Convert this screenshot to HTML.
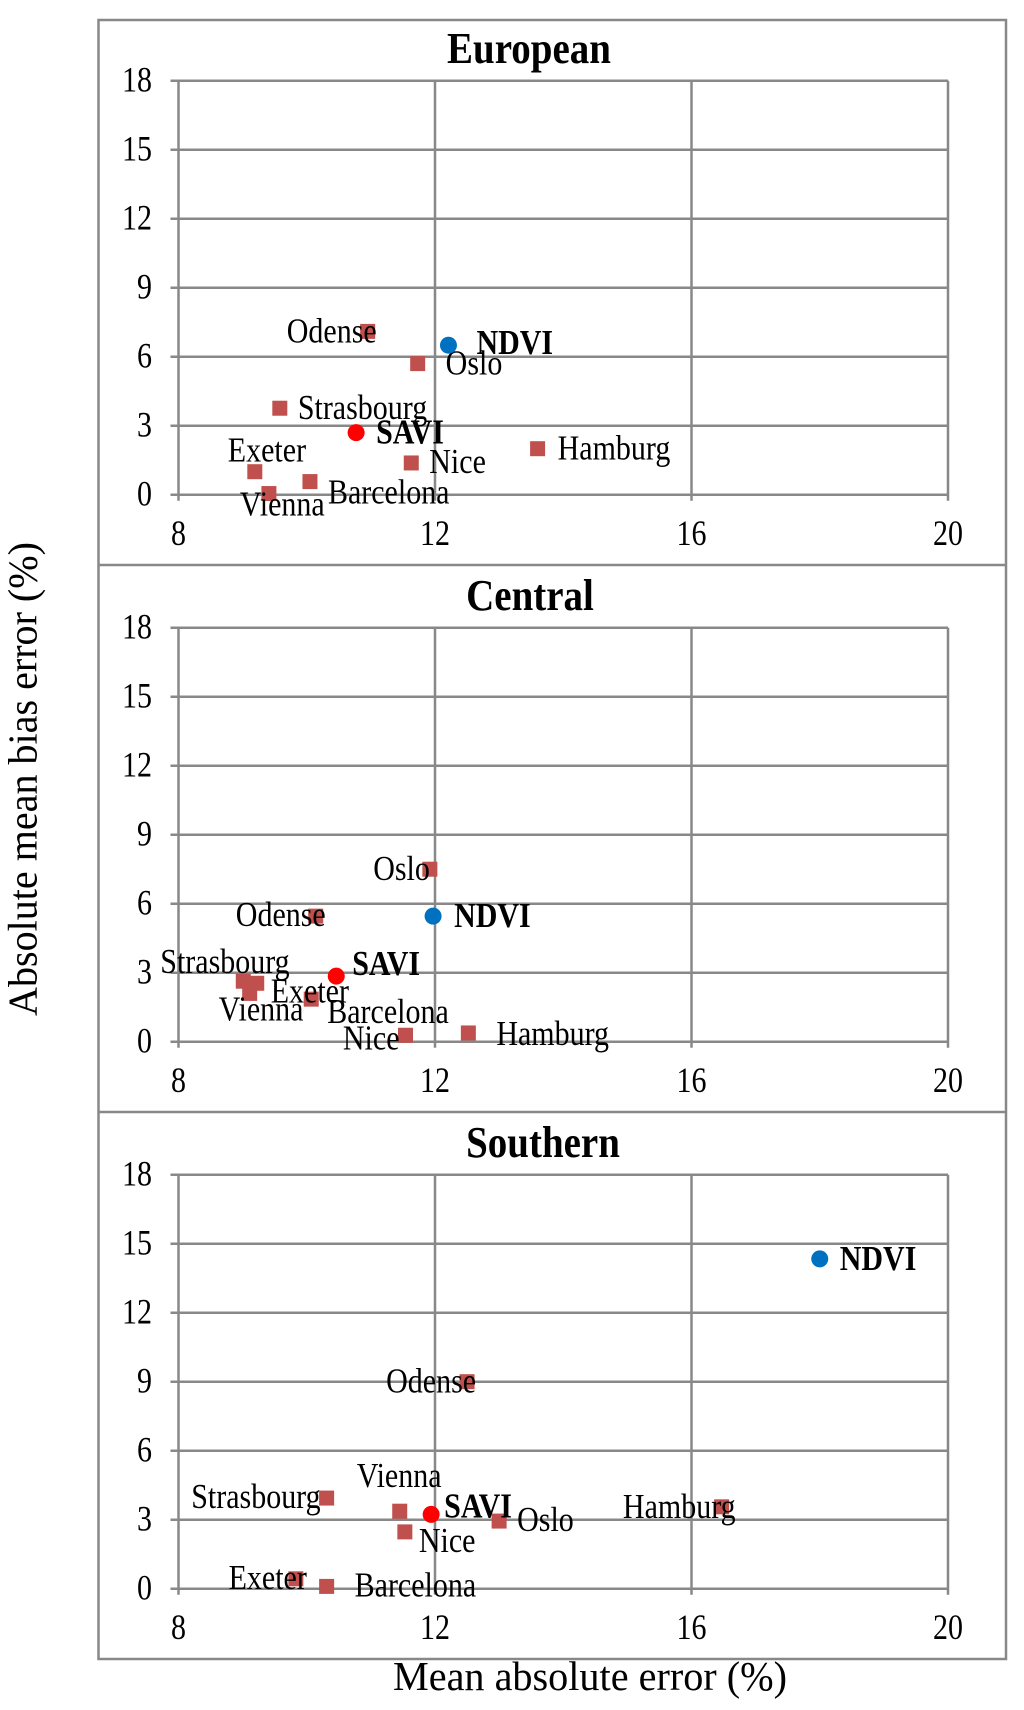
<!DOCTYPE html>
<html><head><meta charset="utf-8"><style>
html,body{margin:0;padding:0;background:#fff;}
svg{display:block;font-family:"Liberation Serif",serif;}
</style></head><body>
<svg id="chart" width="1024" height="1710" viewBox="0 0 1024 1710" xmlns="http://www.w3.org/2000/svg">
<rect x="98.5" y="20" width="907.5" height="1639" fill="none" stroke="#888" stroke-width="2.5"/>
<line x1="98.5" y1="565" x2="1006" y2="565" stroke="#888" stroke-width="2.5"/>
<line x1="98.5" y1="1112" x2="1006" y2="1112" stroke="#888" stroke-width="2.5"/>
<text x="0" y="0" transform="translate(27 779) rotate(-90) scale(1 1.15)" text-anchor="middle" dominant-baseline="middle" font-size="36" textLength="474" lengthAdjust="spacingAndGlyphs">Absolute mean bias error (%)</text>
<text x="0" y="0" transform="translate(590 1690) scale(1 1.15)" text-anchor="middle" font-size="36" textLength="394" lengthAdjust="spacingAndGlyphs">Mean absolute error (%)</text>
</svg>
<script>
const panelTitles = ["European", "Central", "Southern"];
const cities = ["Odense","Oslo","Strasbourg","Hamburg","Nice","Exeter","Barcelona","Vienna"];
const xTicks = [8, 12, 16, 20];
const yTicks = [0, 3, 6, 9, 12, 15, 18];
// European
const euCityX = [10.95, 11.73, 9.58, 13.6, 11.63, 9.19, 10.05, 9.41];
const euCityY = [7.1, 5.7, 3.76, 2.0, 1.38, 1.0, 0.57, 0.05];
const euNdvi = [12.21, 6.5];
const euSavi = [10.77, 2.7];
// Central
const ceCityX = [10.14, 11.92, 9.01, 12.52, 11.54, 9.22, 10.07, 9.11];
const ceCityY = [5.46, 7.5, 2.63, 0.38, 0.28, 2.54, 1.85, 2.1];
const ceNdvi = [11.97, 5.46];
const ceSavi = [10.46, 2.85];
// Southern
const soCityX = [12.5, 13.0, 10.31, 16.47, 11.53, 9.83, 10.31, 11.45];
const soCityY = [9.0, 2.94, 3.94, 3.56, 2.47, 0.43, 0.1, 3.37];
const soNdvi = [18.0, 14.34];
const soSavi = [11.94, 3.23];

// label layout (pixel offsets: dx, dy, anchor) — styling, not data
const labelLayout = [
 {Odense:[9,10,"end"],Oslo:[28,10,"start"],Strasbourg:[18,10,"start"],Hamburg:[20,10,"start"],Nice:[18,9,"start"],Exeter:[-27,-11,"start"],Barcelona:[18,21,"start"],Vienna:[-29,21,"start"],NDVI:[28,8,"start"],SAVI:[20,10,"start"]},
 {Odense:[10,9,"end"],Oslo:[0,10,"end"],Strasbourg:[-83,-9,"start"],Hamburg:[28,11,"start"],Nice:[-6,13,"end"],Exeter:[14,18,"start"],Barcelona:[16,23,"start"],Vienna:[-31,26,"start"],NDVI:[21,10,"start"],SAVI:[16,-2,"start"]},
 {Odense:[9,10,"end"],Oslo:[18,9,"start"],Strasbourg:[-6,9,"end"],Hamburg:[14,10,"end"],Nice:[14,19,"start"],Exeter:[11,9,"end"],Barcelona:[28,9,"start"],Vienna:[-43,-25,"start"],NDVI:[20,10,"start"],SAVI:[13,2,"start"]}
];
const titleX = [529, 530, 543];

const svg = document.getElementById('chart');
const NS = "http://www.w3.org/2000/svg";
function mk(tag, attrs, parent){
  const e = document.createElementNS(NS, tag);
  for (const k in attrs) e.setAttribute(k, attrs[k]);
  (parent||svg).appendChild(e);
  return e;
}
function txt(parent, x, y, s, size, anchor, sy, bold){
  const a = {x:0, y:0, transform:'translate(' + x + ' ' + y + ') scale(1 ' + sy + ')', 'text-anchor':anchor, 'font-size':size};
  if (bold) a['font-weight'] = 'bold';
  const t = mk('text', a, parent);
  t.textContent = s;
  return t;
}
const left = 178.5, right = 948, plotH = 414, step = 547, top0 = 80.7;
const panels = [
  {cx: euCityX, cy: euCityY, ndvi: euNdvi, savi: euSavi},
  {cx: ceCityX, cy: ceCityY, ndvi: ceNdvi, savi: ceSavi},
  {cx: soCityX, cy: soCityY, ndvi: soNdvi, savi: soSavi}
];
panels.forEach((p, i) => {
  const top = top0 + i*step, bottom = top + plotH;
  const xs = v => left + (v - 8) / 12 * (right - left);
  const ys = v => bottom - v / 18 * plotH;
  const g = mk('g', {});
  
  
  const t = txt(g, titleX[i], 63 + i*step, panelTitles[i], 39, 'middle', 1.15, true);
  
  
  yTicks.forEach(v => {
    const l = mk('line', {x1:left-8, x2:right, y1:ys(v), y2:ys(v), stroke:'#888', 'stroke-width':2.5}, g);
    
    
    const tx = txt(g, 152, ys(v)+11, v, 30, 'end', 1.2, false);
    
    
  });
  xTicks.forEach(v => {
    const l = mk('line', {x1:xs(v), x2:xs(v), y1:top, y2:bottom+6, stroke:'#888', 'stroke-width':2.5}, g);
    
    
    const tx = txt(g, xs(v), 545 + i*step, v, 30, 'middle', 1.2, false);
    
    
  });
  const L = labelLayout[i];
  cities.forEach((c, j) => {
    const x = xs(p.cx[j]), y = ys(p.cy[j]);
    const m = mk('rect', {x:x-7.5, y:y-7.5, width:15, height:15, fill:'#c0504d'}, g);
    
    
  });
  cities.forEach((c, j) => {
    const x = xs(p.cx[j]), y = ys(p.cy[j]);
    const o = L[c];
    const tx = txt(g, x+o[0], y+o[1]+1, c, 30, o[2], 1.15, false);
    
    
  });
  [['NDVI', p.ndvi, '#0070c0'], ['SAVI', p.savi, '#ff0000']].forEach(([name, v, col]) => {
    const x = xs(v[0]), y = ys(v[1]);
    const c = mk('circle', {cx:x, cy:y, r:8.5, fill:col}, g);
    
    
    const o = L[name];
    const tx = txt(g, x+o[0], y+o[1]+1, name, 30, o[2], 1.15, true);
    
    
  });
});
</script>
</body></html>
